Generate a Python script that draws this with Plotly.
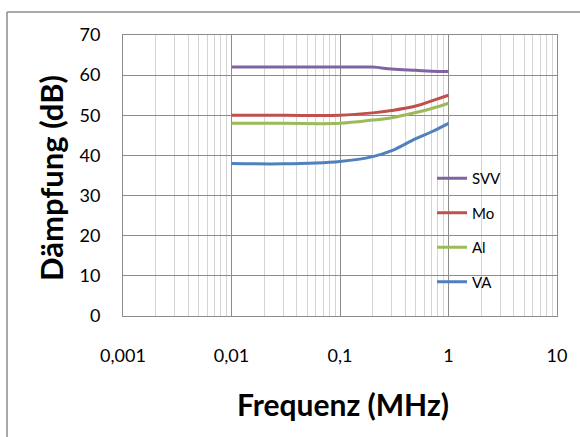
import plotly.graph_objects as go

freq = [0.01, 0.03, 0.1, 0.2, 0.3, 0.5, 0.7, 1]
svv = [62, 62, 62, 62, 61.5, 61.2, 61.0, 60.9]
mo = [50, 50, 50, 50.6, 51.2, 52.3, 53.6, 55]
al = [48, 48, 48, 48.8, 49.4, 50.7, 51.7, 53]
va = [38, 37.9, 38.5, 39.7, 41.2, 44.2, 45.9, 48]

series_names = ["SVV", "Mo", "Al", "VA"]
series_vals = [svv, mo, al, va]
colors = ["#8064A2", "#C0504D", "#9BBB59", "#4F81BD"]

xtick_vals = [0.001, 0.01, 0.1, 1, 10]
xtick_text = ["0,001", "0,01", "0,1", "1", "10"]
ytick_vals = [0, 10, 20, 30, 40, 50, 60, 70]

x_title = "Frequenz (MHz)"
y_title = "Dämpfung (dB)"

fig = go.Figure()
for i, (n, v, c) in enumerate(zip(series_names, series_vals, colors)):
    fig.add_trace(go.Scatter(x=freq, y=v, name=n, mode="lines",
                             line=dict(color=c, width=3, shape="spline", smoothing=1),
                             legendgroup=str(i)))

W, H = 580, 437
L, R, T, B = 123, 23, 35, 121
pw, ph = W - L - R, H - T - B

def px(x):
    return (x - L) / pw

def py(y):
    return (H - B - y) / ph

fnt = "Lato, Carlito, sans-serif"

fig.update_layout(
    width=W, height=H,
    margin=dict(l=L, r=R, t=T, b=B),
    paper_bgcolor="white", plot_bgcolor="white",
    font=dict(family=fnt, color="black"),
    showlegend=True,
    legend=dict(x=px(432), y=py(162), xanchor="left", yanchor="top",
                bgcolor="rgba(0,0,0,0)", font=dict(size=15, family=fnt),
                tracegroupgap=12, itemwidth=30),
    xaxis=dict(type="log", range=[-3, 1], tickvals=xtick_vals, ticktext=xtick_text,
               showgrid=True, gridcolor="#8c8c8c", gridwidth=1,
               minor=dict(showgrid=True, gridcolor="#d4d4d4", gridwidth=1, dtick="D1"),
               showline=True, linecolor="#8c8c8c", mirror=True, zeroline=False,
               ticks="", tickfont=dict(size=18, family=fnt),
               ticklabelstandoff=23, automargin=False),
    yaxis=dict(range=[0, 70], tickvals=ytick_vals, showgrid=True, gridcolor="#8c8c8c",
               showline=True, linecolor="#8c8c8c", mirror=True, zeroline=False,
               ticks="", tickfont=dict(size=18, family=fnt),
               ticklabelstandoff=18, automargin=False),
    annotations=[
        dict(text="<b>" + x_title + "</b>", xref="paper", yref="paper",
             x=px(343), y=py(404), xanchor="center", yanchor="middle",
             showarrow=False, font=dict(size=30, family=fnt)),
        dict(text="<b>" + y_title + "</b>", xref="paper", yref="paper",
             x=px(51), y=py(178), xanchor="center", yanchor="middle", textangle=-90,
             showarrow=False, font=dict(size=31, family=fnt)),
    ],
    shapes=[
        dict(type="line", xref="paper", yref="paper", x0=px(7), x1=px(7), y0=py(12), y1=py(445),
             line=dict(color="#8c8c8c", width=1.5)),
        dict(type="line", xref="paper", yref="paper", x0=px(7), x1=px(585), y0=py(12), y1=py(12),
             line=dict(color="#8c8c8c", width=1.5)),
    ],
)
fig.update_xaxes(tickprefix="<b>", ticksuffix="</b>")
fig.update_yaxes(tickprefix="<b>", ticksuffix="</b>")

fig.write_html("out.html", config={"displayModeBar": False},
               post_script="document.body.style.margin='0';")
